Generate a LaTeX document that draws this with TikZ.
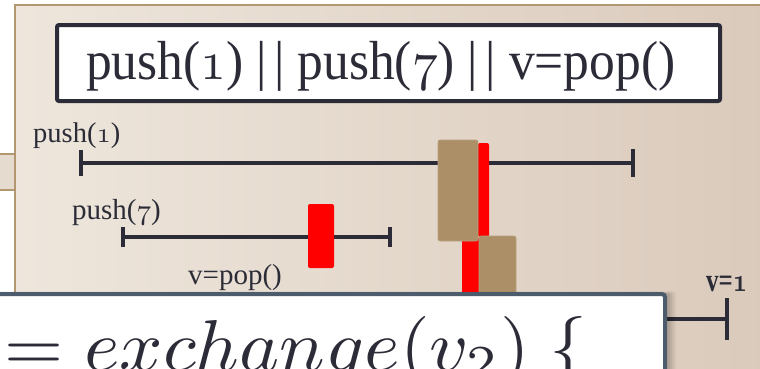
\documentclass[tikz,border=0pt]{standalone}
\usepackage{fontspec}
\setmainfont{Liberation Serif}
\usetikzlibrary{arrows.meta}
\newcommand\osd[1]{{\fontencoding{OML}\fontfamily{cmm}\fontseries{m}\fontshape{it}\selectfont #1}}
\newcommand\osdb[1]{{\fontencoding{OML}\fontfamily{cmm}\fontseries{b}\fontshape{it}\selectfont #1}}
\definecolor{panelL}{HTML}{EEE6DC}
\definecolor{panelR}{HTML}{DACABB}
\definecolor{tanline}{HTML}{B39770}
\definecolor{tabfill}{HTML}{E6DBCF}
\definecolor{ink}{HTML}{2B2C37}
\definecolor{brownbox}{HTML}{AC8F67}
\definecolor{slate}{HTML}{4C5C6C}
\tikzset{
  tl/.style={draw=ink, line width=4pt},
  lbl/.style={anchor=base west, inner sep=0pt, text=ink},
  redbox/.style={fill=red, draw=none, rounded corners=2pt, inner sep=0pt},
  brbox/.style={fill=brownbox, draw=brownbox!85!white, line width=0.6pt, rounded corners=2pt, inner sep=0pt},
}
\begin{document}
\begin{tikzpicture}[x=1pt,y=-1pt]
\useasboundingbox (0,0) rectangle (760,368);
\fill[white] (0,0) rectangle (760,368);
% panel
\shade[left color=panelL, right color=panelR] (15,5) rectangle (770,400);
\draw[tanline, line width=2pt] (15,400) -- (15,5) -- (770,5);
% left tab
\fill[tabfill] (-5,154) rectangle (14,190);
\draw[tanline, line width=1.8pt] (-5,154) -- (15,154) (-5,190) -- (15,190);
% title
\node[draw=ink, fill=white, line width=4pt, rounded corners=2pt, minimum width=663pt, minimum height=76pt, inner sep=0pt] (title) at (388.5,63) {};
\node[lbl] (titletext) at (86,79) {\scalebox{5.15}[5.5]{push(\osd{1}) |\kern1.5pt| push(\osd{7}) |\kern1.5pt| v=pop()}};
% labels
\node[lbl] (lab1) at (33,142) {\scalebox{2.85}{push(\osd{1})}};
\node[lbl] (lab2) at (72,219) {\scalebox{2.9}{push(\osd{7})}};
\node[lbl] (lab3) at (188,284) {\scalebox{2.9}{v=pop()}};
\node[lbl] (res) at (706,291) {\scalebox{2.5}[3.3]{\bfseries v=\osdb{1}}};
% timelines
\coordinate (l1s) at (79,163); \coordinate (l1e) at (635,163);
\coordinate (l2s) at (121,237); \coordinate (l2e) at (392,237);
\coordinate (l3s) at (200,319); \coordinate (l3e) at (729,319);
\draw[tl, {Bar[width=26pt]}-{Bar[width=28pt]}] (l1s) -- (l1e);
\draw[tl, {Bar[width=20pt]}-{Bar[width=20pt]}] (l2s) -- (l2e);
\draw[tl, -{Bar[width=42pt]}] (l3s) -- (l3e);
% operation boxes
\node[redbox, minimum width=26pt, minimum height=64pt] (r2) at (321,236) {};
\node[redbox, minimum width=11pt, minimum height=94pt] (r1) at (483.5,190) {};
\node[redbox, minimum width=17pt, minimum height=163pt] (r3) at (470.5,318.5) {};
\node[brbox, minimum width=40pt, minimum height=101pt] (b1) at (458,190.5) {};
\node[brbox, minimum width=37pt, minimum height=164pt] (b2) at (497.5,318) {};
% bottom box shadow
\foreach \o/\a in {9/0.04,7/0.05,5/0.06,3/0.07}{
  \fill[black, opacity=\a, rounded corners=3pt] (-20,{294-\o*0.3}) rectangle ({667+\o},420);
}
\node[draw=slate, fill=white, line width=4pt, rounded corners=3pt, minimum width=685pt, minimum height=126pt, inner sep=0pt] (bottom) at (322.5,357) {};
\node[lbl] (code) at (4,370) {\scalebox{7.6}[7.2]{$= exchange(v_2)\ \{$}};
\end{tikzpicture}
\end{document}
